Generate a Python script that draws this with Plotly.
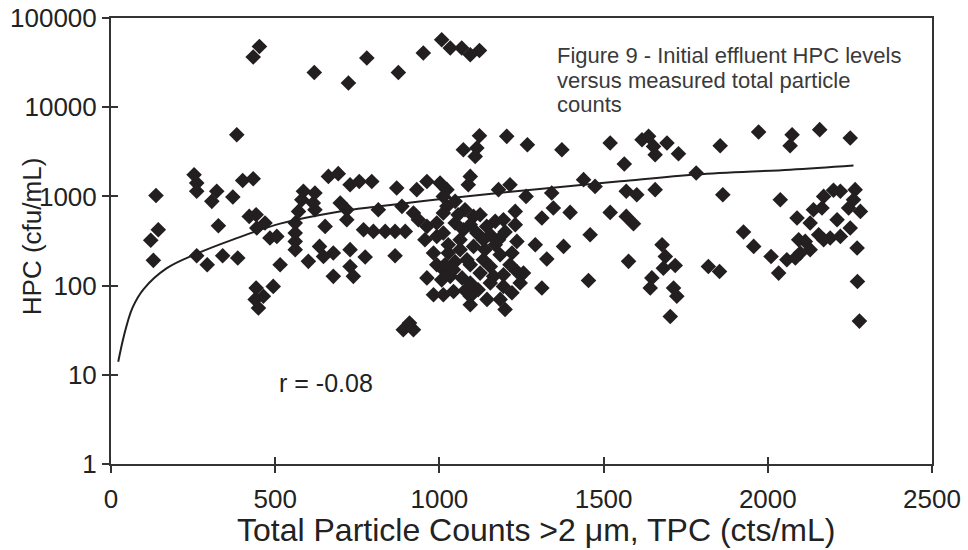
import plotly.graph_objects as go

# Total particle counts (cts/mL) and HPC (cfu/mL)
tpc = [452, 433, 383, 253, 261, 261, 137, 322, 307, 371, 401, 433, 421, 442, 444, 469, 484, 505, 327, 144,
       121, 129, 261, 293, 340, 386, 515, 442, 439, 464, 494, 449,
       619, 723, 779, 875, 951, 1007, 1033, 662, 692, 728, 756, 794, 870, 931, 962, 1002, 1012,
       586, 621, 581, 616, 571, 621, 698, 718, 718, 814, 886, 921, 936, 962, 992, 1012,
       561, 561, 561, 561, 652, 769, 799, 835, 865, 896, 956, 992, 1012,
       601, 635, 647, 677, 677, 728, 728, 738, 774, 865, 982, 992, 1012, 962, 982, 1012, 890, 921, 909,
       1068, 1094, 1122, 1122, 1073, 1114, 1109, 1205, 1268, 1373, 1094, 1088, 1180, 1215, 1264, 1342, 1439, 1474, 1023,
       1231, 1347, 1312, 1398, 1459, 1180, 1236, 1221, 1292, 1378, 1327, 1312, 1454, 1200, 1094, 1043,
       1023, 1048, 1078, 1104, 1048, 1073, 1114, 1144, 1170, 1195, 1134, 1104, 1063, 1027, 1043, 1033, 1084, 1134, 1155, 1124,
       1165, 1195, 1094, 1155, 1195, 1221, 1236, 1256, 1246, 1094, 1007,
       1057, 1094, 1124, 1155, 1063, 1094, 1139, 1185, 1048, 1185, 1118, 1069, 1215, 1170, 1027, 1017, 1145, 1078, 1200, 1231,
       1972, 1520, 1617, 1637, 1652, 1693, 1657, 1728, 1855, 1563, 1782, 1569, 1601, 1657, 1863, 2038, 1520, 1569, 1591, 1926,
       1957, 2010, 2058, 2033, 1678, 1688, 1718, 1682, 1576, 1819, 1853, 1647, 1642, 1713, 1723, 1703,
       2158, 2074, 2068, 2251, 2089, 2129, 2139, 2165, 2170, 2200, 2221, 2266, 2261, 2246, 2282, 2211, 2251, 2221, 2190, 2170,
       2155, 2094, 2114, 2129, 2099, 2084, 2272, 2273, 2279]

hpc = [48000, 36500, 4920, 1750, 1410, 1140, 1025, 1140, 880, 985, 1510, 1580, 597, 623, 442, 504, 342, 356, 469, 423,
       322, 192, 216, 171, 216, 204, 171, 94, 70, 76, 98, 56,
       24500, 18700, 35600, 24500, 40500, 57100, 46100, 1675, 1800, 1350, 1470, 1470, 1240, 1190, 1470, 1410, 1000,
       1140, 1090, 918, 843, 679, 709, 843, 709, 548, 709, 773, 651, 548, 461, 504, 651,
       504, 389, 313, 253, 461, 423, 405, 405, 405, 405, 327, 356, 389,
       187, 275, 212, 232, 127, 253, 164, 127, 209, 216, 232, 171, 151, 122, 79, 79, 32, 32, 38,
       46100, 38800, 43300, 4790, 3340, 3490, 2810, 4710, 3800, 3340, 1675, 1350, 1190, 1350, 1000, 1090, 1540, 1295, 1190,
       679, 741, 573, 662, 372, 327, 313, 232, 287, 275, 199, 94, 114, 54, 61, 86,
       773, 880, 709, 597, 504, 423, 389, 461, 525, 548, 327, 275, 253, 232, 151, 127, 195, 195, 164, 138,
       127, 132, 107, 107, 98, 83, 144, 138, 107, 76, 116,
       623, 482, 623, 372, 327, 171, 253, 222, 185, 70, 90, 122, 171, 287, 287, 171, 70, 88, 400, 482,
       5270, 3970, 4320, 4710, 3635, 3970, 2935, 3010, 3700, 2310, 1830, 1140, 1045, 1190, 1045, 918, 662, 597, 494, 399,
       275, 212, 195, 138, 287, 212, 168, 157, 187, 164, 144, 122, 94, 94, 76, 45,
       5600, 4920, 3700, 4515, 573, 504, 709, 741, 1000, 1170, 1140, 1190, 918, 741, 679, 548, 442, 356, 342, 327,
       372, 327, 313, 253, 232, 204, 264, 111, 40]

# Trend line
trend_x = [22, 40, 65, 100, 170, 261, 373, 515, 688, 819, 992, 1337, 1551, 1784, 2068, 2261]
trend_y = [14, 28, 56, 92, 157, 228, 330, 495, 670, 775, 925, 1245, 1475, 1760, 1995, 2222]

x_ticks = [0, 500, 1000, 1500, 2000, 2500]
y_ticks = [1, 10, 100, 1000, 10000, 100000]
y_tick_labels = ["1", "10", "100", "1000", "10000", "100000"]

FONT = "Liberation Sans, Arial, sans-serif"
INK = "#231f20"
AX = "#333333"

fig = go.Figure()
fig.add_trace(go.Scatter(x=tpc, y=hpc, mode="markers",
                         marker=dict(symbol="diamond", size=12, color=INK, line=dict(width=0)),
                         showlegend=False, hoverinfo="x+y"))
fig.add_trace(go.Scatter(x=trend_x, y=trend_y, mode="lines",
                         line=dict(color=INK, width=2, shape="spline"),
                         showlegend=False, hoverinfo="skip"))
# empty trace to carry the overlay axes that draw the inner half of the crossing ticks
fig.add_trace(go.Scatter(x=[], y=[], xaxis="x2", yaxis="y2", showlegend=False, hoverinfo="skip"))

fig.update_layout(
    width=968, height=550,
    margin=dict(l=111, r=36, t=18, b=86, autoexpand=False),
    paper_bgcolor="white", plot_bgcolor="white",
    font=dict(family=FONT, color="#222222"),
    xaxis=dict(range=[0, 2500], tickvals=x_ticks, ticks="outside", ticklen=7, tickwidth=1.5, tickcolor=AX,
               showline=True, linecolor=AX, linewidth=2, mirror=True, showgrid=False, zeroline=False,
               automargin=False, ticklabelstandoff=4,
               tickfont=dict(size=26, family=FONT, color="#222222")),
    yaxis=dict(type="log", range=[0, 5], tickvals=y_ticks, ticktext=y_tick_labels, ticks="outside",
               ticklen=7, tickwidth=1.5, tickcolor=AX, showline=True, linecolor=AX, linewidth=2, mirror=True,
               showgrid=False, zeroline=False, automargin=False,
               tickfont=dict(size=26, family=FONT, color="#222222")),
    xaxis2=dict(overlaying="x", anchor="y2", range=[0, 2500], tickvals=x_ticks, ticks="inside", ticklen=7,
                tickwidth=1.5, tickcolor=AX, showticklabels=False, showline=False, showgrid=False, zeroline=False,
                automargin=False),
    yaxis2=dict(overlaying="y", anchor="x2", type="log", range=[0, 5], tickvals=y_ticks, ticks="inside",
                ticklen=7, tickwidth=1.5, tickcolor=AX, showticklabels=False, showline=False, showgrid=False,
                zeroline=False, automargin=False),
)

ann_font = dict(family=FONT, size=22, color="#3a3a3a")
fig.add_annotation(text="Figure 9 - Initial effluent HPC levels", xref="paper", yref="paper",
                   x=0.541, y=0.917, xanchor="left", yanchor="middle", showarrow=False, font=ann_font)
fig.add_annotation(text="versus measured total particle", xref="paper", yref="paper",
                   x=0.541, y=0.859, xanchor="left", yanchor="middle", showarrow=False, font=ann_font)
fig.add_annotation(text="counts", xref="paper", yref="paper",
                   x=0.541, y=0.805, xanchor="left", yanchor="middle", showarrow=False, font=ann_font)
fig.add_annotation(text="r = -0.08", xref="paper", yref="paper", x=0.202, y=0.182,
                   xanchor="left", yanchor="middle", showarrow=False,
                   font=dict(family=FONT, size=25, color="#222222"))
fig.add_annotation(text="Total Particle Counts >2 μm, TPC (cts/mL)", xref="paper", yref="paper",
                   x=0.518, y=-0.148, xanchor="center", yanchor="middle", showarrow=False,
                   font=dict(family=FONT, size=32, color="#222222"))
fig.add_annotation(text="HPC (cfu/mL)", xref="paper", yref="paper", x=-0.096, y=0.509,
                   xanchor="center", yanchor="middle", textangle=-90, showarrow=False,
                   font=dict(family=FONT, size=26, color="#222222"))

# remove the page body's default 8px margin so the figure sits at the window's top-left corner
fig.write_html("out.html", post_script="document.body.style.margin='0';",
               config={"displayModeBar": False})
